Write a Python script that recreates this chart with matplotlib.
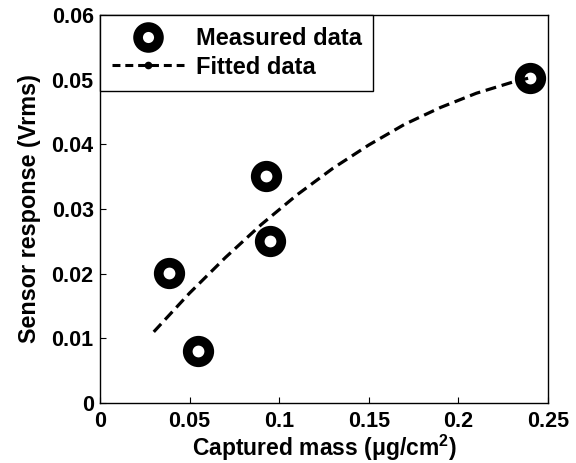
import matplotlib
matplotlib.use("Agg")
import matplotlib.pyplot as plt
from matplotlib.lines import Line2D

plt.rcParams['font.family'] = ['Liberation Sans', 'DejaVu Sans']
plt.rcParams['font.weight'] = 'bold'
plt.rcParams['axes.labelweight'] = 'bold'
plt.rcParams['mathtext.fontset'] = 'custom'
plt.rcParams['mathtext.rm'] = 'Liberation Sans:bold'
plt.rcParams['mathtext.it'] = 'Liberation Sans:bold'
plt.rcParams['mathtext.bf'] = 'Liberation Sans:bold'

# measured points
mass = [0.0385, 0.0545, 0.0926, 0.0949, 0.240]
response = [0.0201, 0.0081, 0.0351, 0.0251, 0.0503]

# fitted curve
fit_mass = [0.03, 0.05, 0.07, 0.09, 0.11, 0.13, 0.15, 0.17, 0.19, 0.21, 0.23, 0.24]
fit_resp = [0.0110, 0.0170, 0.0225, 0.0276, 0.0322, 0.0363, 0.0399, 0.0431,
            0.0457, 0.0479, 0.0496, 0.0503]

xticks = [0, 0.05, 0.1, 0.15, 0.2, 0.25]
xticklabels = ['0', '0.05', '0.1', '0.15', '0.2', '0.25']
yticks = [0, 0.01, 0.02, 0.03, 0.04, 0.05, 0.06]
yticklabels = ['0', '0.01', '0.02', '0.03', '0.04', '0.05', '0.06']

fig = plt.figure(figsize=(5.76, 4.63), dpi=100)
ax = fig.add_axes([100 / 576, 60 / 463, 448 / 576, 388 / 463])

ax.plot(mass, response, linestyle='none', marker='o', markersize=15.5,
        markeredgewidth=7, markeredgecolor='black', markerfacecolor='white')
ax.plot(fit_mass, fit_resp, color='black', linewidth=2.3,
        linestyle=(0, (3.4, 1.8)))

ax.set_xlim(0, 0.25)
ax.set_ylim(0, 0.06)
ax.set_xticks(xticks)
ax.set_xticklabels(xticklabels)
ax.set_yticks(yticks)
ax.set_yticklabels(yticklabels)
ax.tick_params(direction='in', length=4, width=0.8, labelsize=15.5)
ax.tick_params(axis='x', pad=6)
ax.tick_params(axis='y', pad=4.5)
for s in ax.spines.values():
    s.set_linewidth(1.0)

ax.set_xlabel('Captured mass ($\\mu$g/cm$^{2}$)', fontsize=16.5, labelpad=0)
ax.set_ylabel('Sensor response (Vrms)', fontsize=16.8, labelpad=8)

h1 = Line2D([], [], linestyle='none', marker='o', markersize=15,
            markeredgewidth=7, markeredgecolor='black', markerfacecolor='white')
h2 = Line2D([], [], color='black', linewidth=2.2, linestyle=(0, (2.6, 1.6)),
            marker='.', markersize=9)
leg = ax.legend([h1, h2], ['Measured data', 'Fitted data'], loc='upper left',
                borderaxespad=0, fancybox=False, edgecolor='black',
                fontsize=17, handlelength=3.05, handletextpad=0.5,
                borderpad=0.5, labelspacing=0.25, numpoints=1)
leg.get_frame().set_linewidth(1.0)
leg.get_frame().set_alpha(1)

fig.savefig('out.png', dpi=100)
